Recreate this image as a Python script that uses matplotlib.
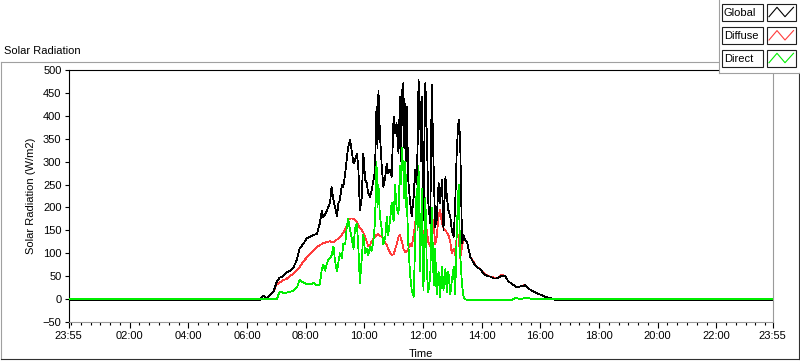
import matplotlib
matplotlib.use('Agg')
import matplotlib.pyplot as plt
from matplotlib.patches import Rectangle

plt.rcParams['font.family'] = ['Liberation Sans', 'DejaVu Sans']
plt.rcParams['font.size'] = 8

# minutes after midnight (23:55 of the previous day = -5)
minutes = [-5, 386, 393, 400, 407, 414, 421, 427, 434, 441,
           448, 455, 462, 468, 475, 482, 489, 496, 503, 509,
           513, 516, 520, 523, 526, 530, 533, 537, 540, 544,
           547, 550, 554, 557, 561, 564, 567, 571, 574, 578,
           581, 585, 588, 591, 595, 598, 602, 605, 608, 612,
           615, 619, 622, 625, 627, 629, 632, 636, 639, 643,
           646, 649, 653, 656, 660, 663, 666, 670, 673, 675,
           677, 679, 680, 682, 684, 686, 687, 690, 694, 697,
           701, 704, 707, 709, 711, 714, 716, 718, 721, 723,
           725, 728, 731, 735, 738, 742, 745, 748, 752, 755,
           759, 762, 766, 769, 772, 776, 779, 783, 786, 789,
           791, 793, 796, 800, 803, 806, 810, 817, 824, 830,
           837, 844, 851, 858, 865, 871, 881, 888, 895, 902,
           909, 915, 922, 929, 936, 943, 950, 956, 963, 970,
           977, 984, 990, 1435]

global_rad = [-2, -2, 8, 2, 8, 16, 38, 47, 50, 58,
              62, 69, 85, 111, 120, 132, 136, 140, 142, 165,
              192, 178, 185, 192, 200, 210, 245, 216, 202, 180,
              209, 216, 249, 245, 274, 303, 332, 347, 325, 296,
              303, 318, 282, 194, 223, 318, 260, 253, 231, 223,
              238, 260, 282, 420, 330, 455, 360, 285, 245, 267,
              296, 274, 282, 267, 398, 362, 384, 318, 442, 300,
              456, 380, 471, 330, 427, 300, 420, 260, 209, 180,
              223, 282, 250, 330, 478, 413, 300, 442, 172, 350,
              471, 354, 209, 165, 467, 282, 158, 172, 253, 209,
              260, 151, 267, 223, 194, 180, 151, 136, 209, 318,
              360, 391, 354, 122, 140, 129, 125, 92, 78, 70,
              65, 56, 50, 49, 45, 45, 51, 50, 38, 34,
              27, 27, 28, 30, 23, 18, 15, 11, 9, 5,
              3, 1, -2, -2]

diffuse_rad = [-2, -2, 8, 2, 8, 16, 32, 36, 41, 44,
               51, 55, 64, 70, 82, 90, 99, 105, 113, 118,
               120, 122, 123, 125, 125, 126, 125, 125, 126, 130,
               132, 135, 140, 145, 152, 160, 172, 176, 176, 175,
               172, 168, 160, 155, 150, 145, 135, 125, 116, 118,
               126, 132, 136, 140, 141, 142, 138, 136, 130, 122,
               118, 110, 100, 96, 98, 108, 118, 136, 140, 132,
               125, 118, 110, 106, 102, 103, 104, 110, 120, 115,
               140, 165, 190, 180, 170, 145, 150, 155, 135, 150,
               160, 150, 125, 115, 180, 165, 120, 135, 180, 195,
               165, 155, 150, 145, 140, 125, 100, 110, 95, 135,
               138, 140, 89, 115, 129, 129, 125, 92, 80, 70,
               66, 57, 52, 49, 47, 45, 53, 50, 38, 34,
               27, 27, 28, 31, 23, 18, 15, 11, 9, 5,
               3, 1, -2, -2]

direct_rad = [0, 0, 0, 0, 0, 0, 0, 16, 14, 14,
              16, 18, 25, 42, 36, 33, 32, 35, 30, 32,
              65, 75, 62, 75, 85, 90, 95, 115, 85, 60,
              80, 100, 90, 120, 120, 155, 175, 150, 135, 110,
              155, 165, 110, 34, 90, 140, 100, 110, 95, 115,
              105, 130, 170, 300, 200, 250, 180, 150, 120, 135,
              180, 140, 175, 210, 170, 250, 200, 185, 290, 250,
              330, 290, 280, 220, 300, 200, 220, 120, 50, 20,
              5, 120, 240, 150, 290, 60, 150, 240, 20, 120,
              220, 60, 15, 50, 200, 30, 110, 10, 60, 5,
              70, 20, 65, 15, 60, 10, 40, 70, 10, 140,
              200, 250, 100, 30, 5, 0, -2, -2, -2, -2,
              -2, -2, -2, -2, -2, -2, -2, -2, -2, -2,
              3, 1, 0, 3, 2, 0, 0, 0, 0, 0,
              0, 0, 0, 0]

series_names = ['Global', 'Diffuse', 'Direct']
series_colors = ['#000000', '#ff3c3c', '#00ee00']

tick_minutes = [-5, 120, 240, 360, 480, 600, 720, 840, 960, 1080, 1200, 1320, 1435]
tick_labels = ['23:55', '02:00', '04:00', '06:00', '08:00', '10:00', '12:00',
               '14:00', '16:00', '18:00', '20:00', '22:00', '23:55']

W, H = 800, 361
L, R, T, B = 68.5, 772.5, 70, 322

fig = plt.figure(figsize=(W / 100, H / 100), dpi=100)
ax = fig.add_axes([L / W, 1 - B / H, (R - L) / W, (B - T) / H])

# diffuse under global, direct on top; crisp 1 px lines like the original
ax.plot(minutes, diffuse_rad, color=series_colors[1], lw=0.55, antialiased=False, zorder=1)
ax.plot(minutes, global_rad, color=series_colors[0], lw=0.55, antialiased=False, zorder=2)
ax.plot(minutes, direct_rad, color=series_colors[2], lw=0.55, antialiased=False, zorder=3)

ax.set_xlim(-5, 1435)
ax.set_ylim(-50, 500)
ax.set_xticks(tick_minutes, tick_labels)
ax.set_xticks(range(0, 1435, 20), minor=True)
ax.set_yticks(range(-50, 501, 50))
ax.tick_params(axis='x', which='major', length=4.3, width=0.8, pad=2.5)
ax.tick_params(axis='x', which='minor', length=2.5, width=0.8)
ax.tick_params(axis='y', length=3, width=0.8, pad=2)

for side in ['top', 'left']:
    ax.spines[side].set_color('black')
    ax.spines[side].set_linewidth(0.8)
for side in ['bottom', 'right']:
    ax.spines[side].set_color('#9a9a9a')
    ax.spines[side].set_linewidth(0.8)

ax.set_ylabel('Solar Radiation (W/m2)', va='center')
ax.yaxis.set_label_coords((31 - L) / (R - L), 0.5)
ax.set_xlabel('Time', va='center')
ax.xaxis.set_label_coords(0.5, (B - 354) / (B - T))

# overlay in pixel coordinates: outer frame, caption and legend panel
ov = fig.add_axes([0, 0, 1, 1], zorder=5)
ov.set_xlim(0, W)
ov.set_ylim(H, 0)
ov.axis('off')
ov.patch.set_alpha(0)

ov.plot([0.5, 718], [61.5, 61.5], color='#a0a0a0', lw=0.8)
ov.plot([0.5, 0.5], [61.5, 358.5], color='#a0a0a0', lw=0.8)
ov.plot([0.5, 798.5], [358.5, 358.5], color='#303030', lw=0.8)
ov.plot([798.5, 798.5], [72.5, 358.5], color='#303030', lw=0.8)
ov.text(4, 51, 'Solar Radiation', ha='left', va='center')

ov.add_patch(Rectangle((718.5, -1), 83, 73.5, facecolor='white', edgecolor='none'))
ov.plot([718.5, 718.5], [0, 72.5], color='#a0a0a0', lw=0.8)
ov.plot([718.5, 800], [72.5, 72.5], color='#a0a0a0', lw=0.8)

row_tops = [4, 27.3, 50]
for name, color, top in zip(series_names, series_colors, row_tops):
    ov.add_patch(Rectangle((721.5, top), 41, 16.5, facecolor='white',
                           edgecolor='#202020', lw=0.8))
    ov.add_patch(Rectangle((766.5, top), 29, 16.5, facecolor='white',
                           edgecolor='#202020', lw=0.8))
    ov.text(724, top + 8.5, name, ha='left', va='center')
    ov.plot([769, 777, 785, 793.5],
            [top + 12.7, top + 3.3, top + 12.7, top + 3.3], color=color, lw=0.8)

fig.savefig('out.png', dpi=100)
